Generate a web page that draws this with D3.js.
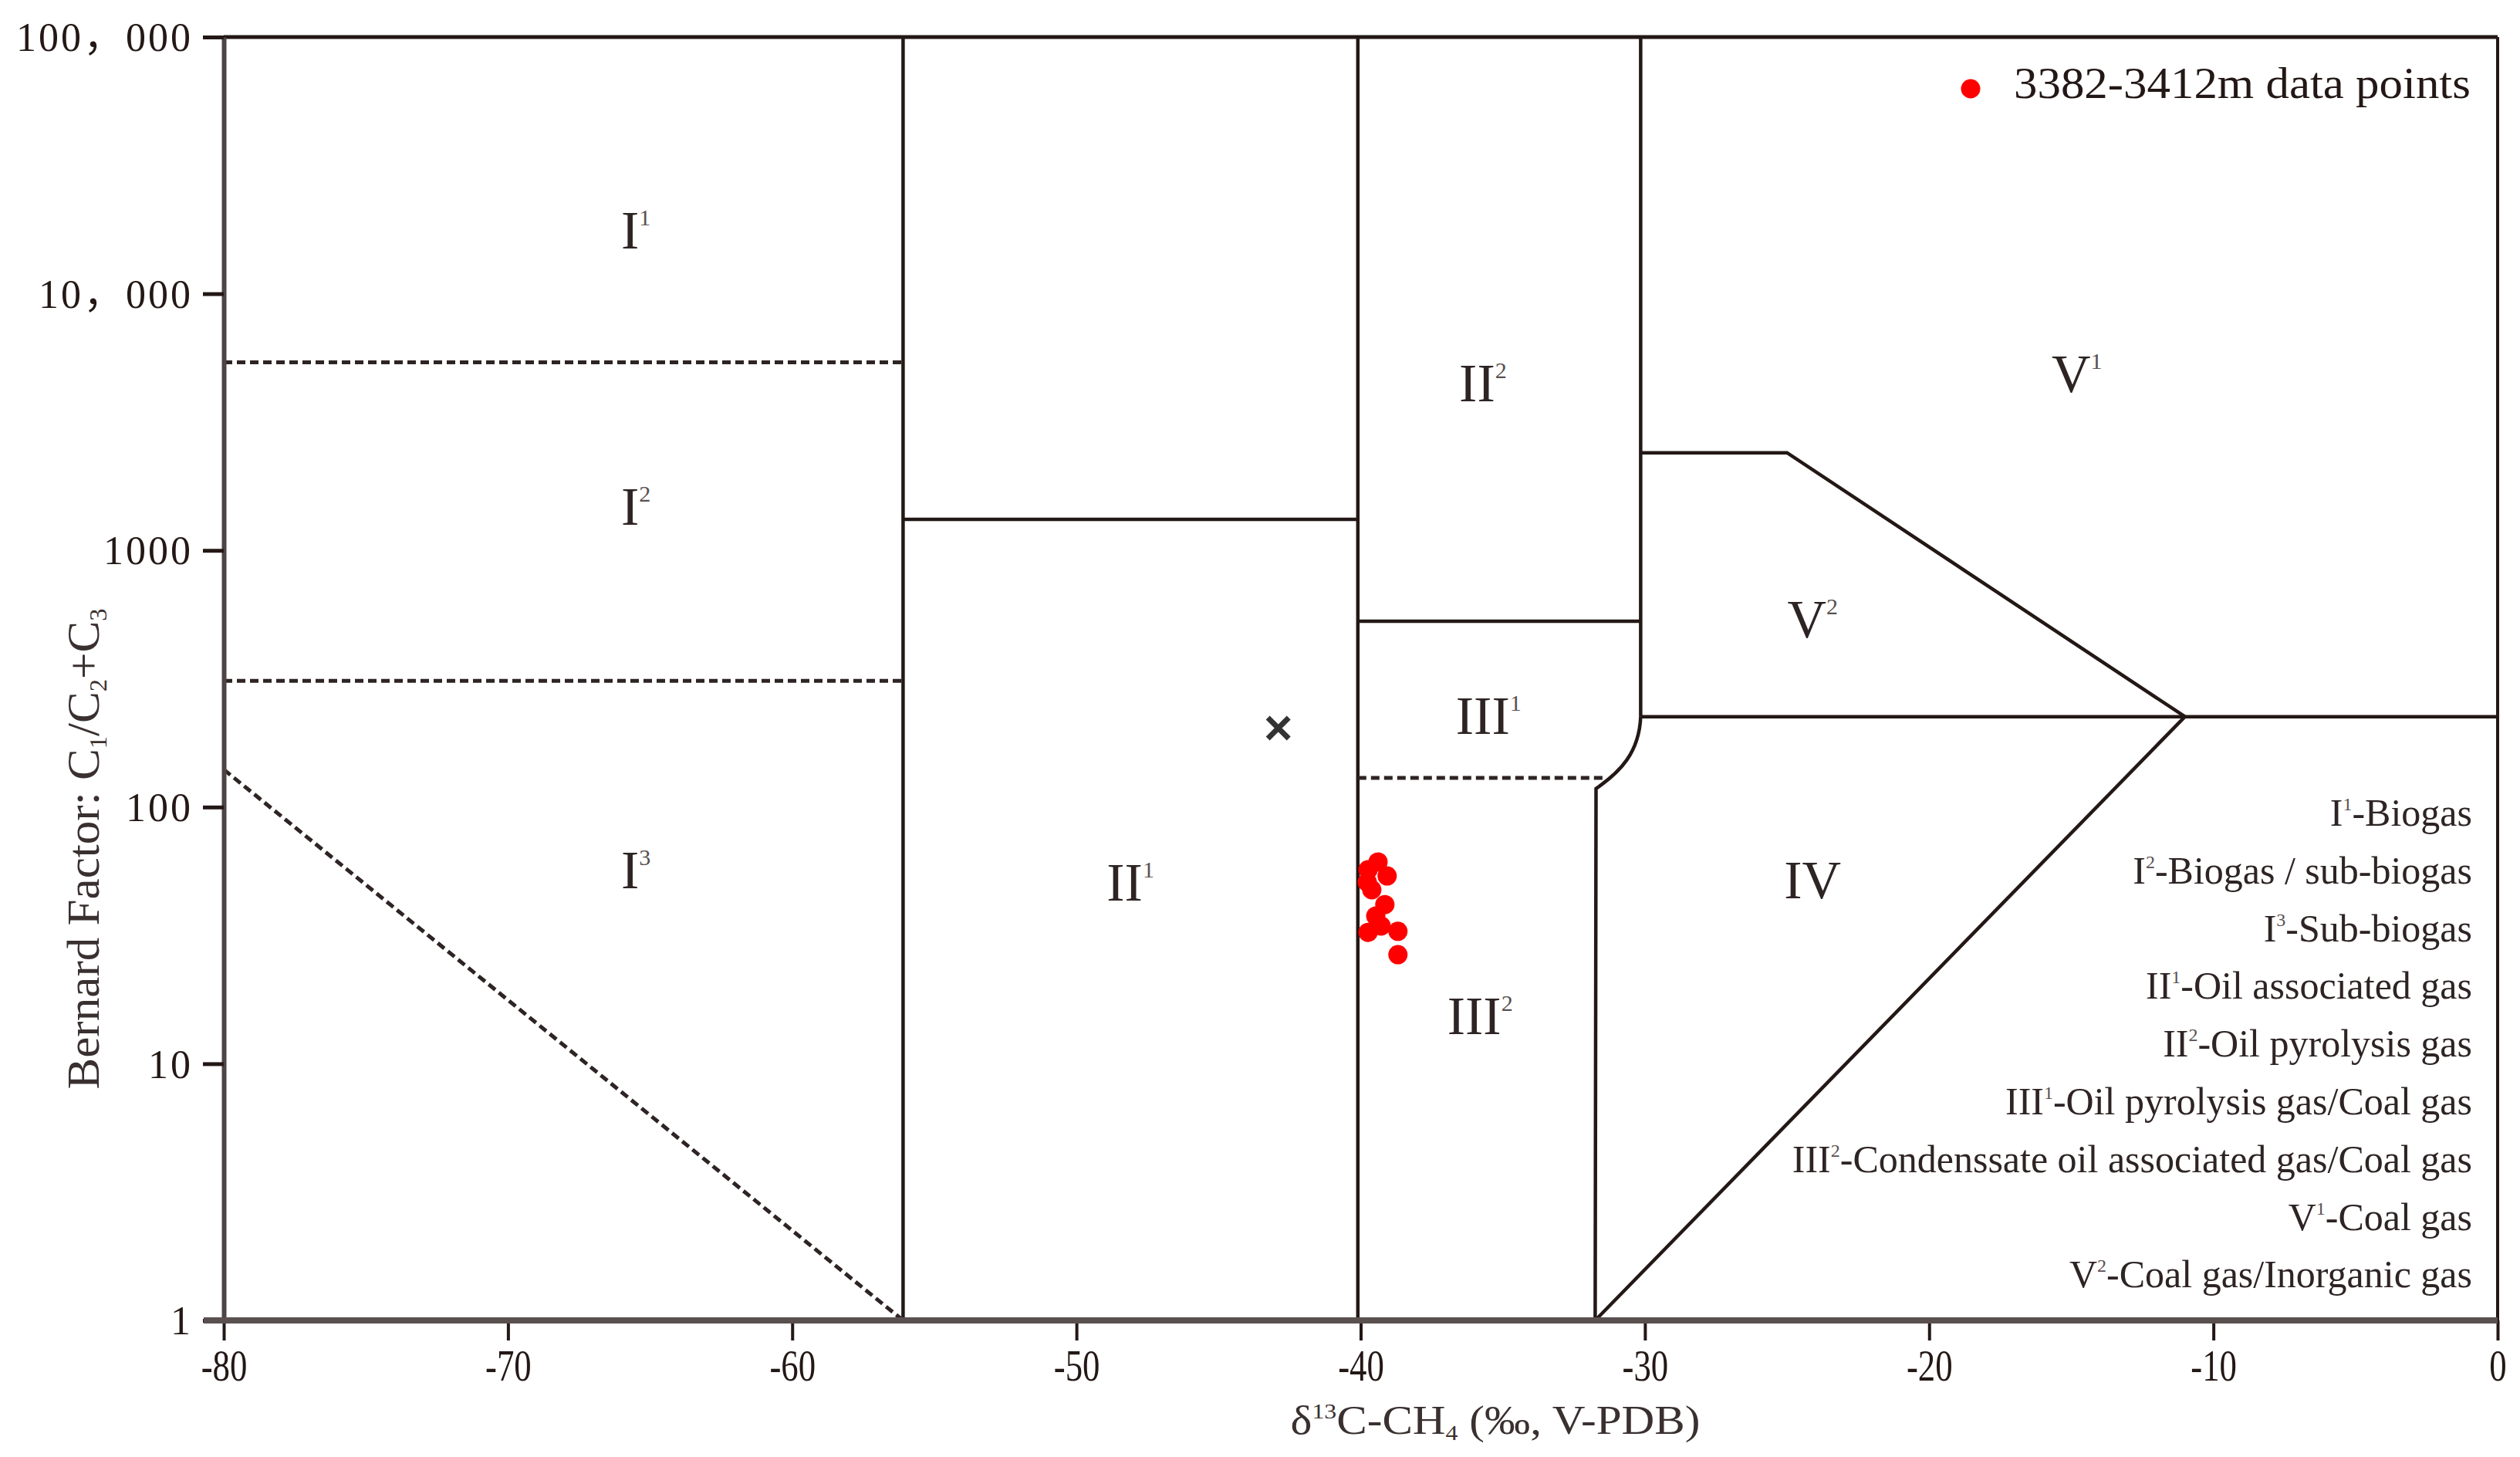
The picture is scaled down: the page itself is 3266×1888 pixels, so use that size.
<!DOCTYPE html>
<html><head><meta charset="utf-8">
<script src="https://cdn.jsdelivr.net/npm/d3@7"></script>
<style>body{margin:0;background:#fff}svg{display:block}</style>
</head><body>
<svg id="chart" width="3266" height="1888"></svg>
<script>
// ---------- data ----------
const xTicks = [-80, -70, -60, -50, -40, -30, -20, -10, 0];
const yTicks = [1, 10, 100, 1000, 10000, 100000];
const yTickLabels = ["1", "10", "100", "1000", "10，000", "100，000"];

const seriesName = "3382-3412m data points";
const sampleD13C = [-39.39, -39.74, -39.07, -39.77, -39.61, -39.15, -39.47, -39.74, -39.28, -38.69, -38.69];
const sampleBernard = [61.1, 57.0, 53.9, 51.0, 47.6, 41.7, 37.6, 32.5, 34.4, 32.8, 26.6];
const crossD13C = [-42.9];
const crossBernard = [203];

// zone boundaries (δ13C, Bernard) polylines
const solidBoundaries = [
  [[-56.1, 1], [-56.1, 100000]],
  [[-40.1, 1], [-40.1, 100000]],
  [[-56.1, 1320], [-40.1, 1320]],
  [[-30.15, 225], [-30.15, 100000]],
  [[-40.1, 530], [-30.15, 530]],
  [[-30.15, 225], [0, 225]],
  [[-30.15, 2400], [-25, 2400], [-11, 225]],
  [[-31.75, 1], [-11, 225]]
];
const dashedBoundaries = [
  [[-80, 5400], [-56.1, 5400]],
  [[-80, 310], [-56.1, 310]],
  [[-80, 140], [-56.1, 1]],
  [[-40.1, 130], [-31.4, 130]]
];
// rounded corner: start, control1, control2, end, then straight down
const curveBoundary = [[-30.15, 225], [-30.2, 163], [-30.87, 137], [-31.72, 118], [-31.75, 1]];

const regionNames = ["I", "I", "I", "II", "II", "III", "III", "IV", "V", "V"];
const regionSups  = ["1", "2", "3", "1", "2", "1", "2", "", "1", "2"];
const regionX = [-65.5, -65.5, -65.5, -48.1, -35.7, -35.5, -35.8, -24.1, -14.8, -24.1];
const regionY = [17700, 1490, 57, 51, 4500, 228, 15.4, 52, 4900, 540];

const legendCodes = ["I", "I", "I", "II", "II", "III", "III", "V", "V"];
const legendSups  = ["1", "2", "3", "1", "2", "1", "2", "1", "2"];
const legendNames = ["-Biogas", "-Biogas / sub-biogas", "-Sub-biogas", "-Oil associated gas",
  "-Oil pyrolysis gas", "-Oil pyrolysis gas/Coal gas", "-Condenssate oil associated gas/Coal gas",
  "-Coal gas", "-Coal gas/Inorganic gas"];

// ---------- layout ----------
const svg = d3.select("#chart");
const FONT = "'Liberation Serif','Times New Roman',serif";
const TICKFONT = "'Liberation Serif','Noto Sans CJK SC',serif";
const INK = "#231815";
const AXIS = "#4e4444";

const x = d3.scaleLinear().domain([-80, 0]).range([290, 3237]);
const y = d3.scaleLog().domain([1, 100000]).range([1711, 48]);

function condense(sel, k) {
  sel.each(function () {
    const w = this.getComputedTextLength();
    d3.select(this).attr("textLength", w * k).attr("lengthAdjust", "spacingAndGlyphs");
  });
}

const line = d3.line().x(d => x(d[0])).y(d => y(d[1]));

// frame top and right
svg.append("line").attr("x1", x(-80)).attr("x2", x(0)).attr("y1", y(100000)).attr("y2", y(100000))
  .attr("stroke", INK).attr("stroke-width", 5);
svg.append("line").attr("x1", x(0)).attr("x2", x(0)).attr("y1", y(100000)).attr("y2", y(1))
  .attr("stroke", INK).attr("stroke-width", 4);

// boundaries
svg.append("g").selectAll("path").data(solidBoundaries).join("path")
  .attr("d", line).attr("fill", "none").attr("stroke", INK).attr("stroke-width", 4.5)
  .attr("stroke-linejoin", "miter");
svg.append("g").selectAll("path").data(dashedBoundaries).join("path")
  .attr("d", line).attr("fill", "none").attr("stroke", "#2e2424").attr("stroke-width", 5)
  .attr("stroke-dasharray", "11,6");
{
  const p = d3.path();
  const c = curveBoundary;
  p.moveTo(x(c[0][0]), y(c[0][1]));
  p.bezierCurveTo(x(c[1][0]), y(c[1][1]), x(c[2][0]), y(c[2][1]), x(c[3][0]), y(c[3][1]));
  p.lineTo(x(c[4][0]), y(c[4][1]));
  svg.append("path").attr("d", p.toString()).attr("fill", "none").attr("stroke", INK).attr("stroke-width", 4.5);
}

// axes
const yAxis = d3.axisLeft(y).tickValues(yTicks)
  .tickFormat(d => yTickLabels[yTicks.indexOf(d)])
  .tickSize(27).tickPadding(13).tickSizeOuter(0);
const gy = svg.append("g").attr("transform", `translate(${x(-80)},0)`).call(yAxis);
gy.select(".domain").attr("stroke", AXIS).attr("stroke-width", 6);
gy.selectAll(".tick line").attr("stroke", INK).attr("stroke-width", 5);
gy.selectAll(".tick text").attr("font-family", TICKFONT).attr("font-size", 52)
  .attr("fill", INK).attr("letter-spacing", 3).attr("dy", "0.34em");

const xAxis = d3.axisBottom(x).tickValues(xTicks).tickFormat(d => String(d))
  .tickSize(26).tickPadding(12).tickSizeOuter(0);
const gx = svg.append("g").attr("transform", `translate(0,${y(1)})`).call(xAxis);
gx.select(".domain").remove();
gx.append("line").attr("x1", x(-80) - 26).attr("x2", x(0)).attr("y1", 0).attr("y2", 0)
  .attr("stroke", "#5a5050").attr("stroke-width", 8);
gx.selectAll(".tick line").attr("stroke", INK).attr("stroke-width", 4);
gx.selectAll(".tick text").attr("font-family", FONT).attr("font-size", 56).attr("fill", INK)
  .attr("dy", "0.72em").call(condense, 0.8);

// axis titles
const yt = svg.append("text").attr("transform", `translate(110,1100) rotate(-90)`)
  .attr("text-anchor", "middle").attr("font-family", FONT).attr("font-size", 60).attr("fill", "#3a3030")
  .attr("dy", "0.3em");
yt.append("tspan").text("Bernard Factor: C");
yt.append("tspan").attr("font-size", 32).attr("dy", 10).text("1");
yt.append("tspan").attr("dy", -10).text("/C");
yt.append("tspan").attr("font-size", 32).attr("dy", 10).text("2");
yt.append("tspan").attr("dy", -10).text("+C");
yt.append("tspan").attr("font-size", 32).attr("dy", 10).text("3");
yt.attr("textLength", 623).attr("lengthAdjust", "spacingAndGlyphs");

const xt = svg.append("text").attr("x", 1938).attr("y", 1858)
  .attr("text-anchor", "middle").attr("font-family", FONT).attr("font-size", 52).attr("fill", "#3a3030");
xt.append("tspan").text("δ");
xt.append("tspan").attr("font-size", 28).attr("dy", -20).text("13");
xt.append("tspan").attr("dy", 20).text("C-CH");
xt.append("tspan").attr("font-size", 28).attr("dy", 8).text("4");
xt.append("tspan").attr("dy", -8).text(" (‰, V-PDB)");
xt.attr("textLength", 531).attr("lengthAdjust", "spacingAndGlyphs");

// region labels
const rl = svg.append("g").selectAll("text").data(regionNames).join("text")
  .attr("x", (d, i) => x(regionX[i])).attr("y", (d, i) => y(regionY[i]) + 24)
  .attr("text-anchor", "middle").attr("font-family", FONT).attr("font-size", 70).attr("fill", "#2e2424");
rl.append("tspan").text(d => d);
rl.append("tspan").attr("font-size", 30).attr("dy", -30).attr("fill", "#5a5050")
  .text((d, i) => regionSups[i]);

// data points
svg.append("g").selectAll("circle").data(sampleD13C).join("circle")
  .attr("cx", d => x(d)).attr("cy", (d, i) => y(sampleBernard[i])).attr("r", 12.5)
  .attr("fill", "#ff0000");
svg.append("g").selectAll("path").data(crossD13C).join("path")
  .attr("transform", (d, i) => `translate(${x(d)},${y(crossBernard[i])})`)
  .attr("d", d3.symbol().type(d3.symbolTimes).size(480))
  .attr("fill", "none").attr("stroke", "#333").attr("stroke-width", 7);

// top legend
svg.append("circle").attr("cx", 2554).attr("cy", 115).attr("r", 12.5).attr("fill", "#ff0000");
svg.append("text").attr("x", 2610).attr("y", 127).attr("font-family", FONT).attr("font-size", 58)
  .attr("fill", INK).text(seriesName).attr("textLength", 592).attr("lengthAdjust", "spacingAndGlyphs");

// zone legend list
const ll = svg.append("g").selectAll("text").data(legendNames).join("text")
  .attr("x", 3204).attr("y", (d, i) => 1070 + i * 74.8)
  .attr("text-anchor", "end").attr("font-family", FONT).attr("font-size", 50).attr("fill", "#2e2424");
ll.append("tspan").text((d, i) => legendCodes[i]);
ll.append("tspan").attr("font-size", 24).attr("dy", -20).attr("fill", "#5a5050").text((d, i) => legendSups[i]);
ll.append("tspan").attr("dy", 20).text(d => d);
</script>
</body></html>
